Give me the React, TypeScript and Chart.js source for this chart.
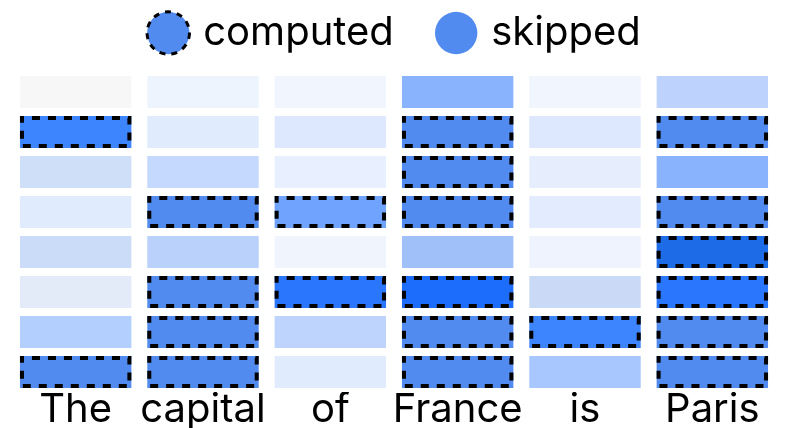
import { useEffect, useRef } from "react";
import { Chart, registerables } from "chart.js";

Chart.register(...registerables);

// Tokens (x-axis categories)
const words = ["The", "capital", "of", "France", "is", "Paris"];

// Layer rows (top to bottom)
const rowLabels = ["L1", "L2", "L3", "L4", "L5", "L6", "L7", "L8"];

// Cell colours per token, top row first
const colorsThe = ["#f7f7f7", "#3d85fe", "#cfdff8", "#e1ebfe", "#cbdcf9", "#e3eaf8", "#b3cffd", "#528bef"];
const colorsCapital = ["#eef4fe", "#e0ebfd", "#c5d8fd", "#528bef", "#b9d1fb", "#528bef", "#528bef", "#528bef"];
const colorsOf = ["#f0f5fe", "#dde8fe", "#e8effe", "#6fa3fe", "#eff4fd", "#2a76fd", "#bed4fd", "#e0ebfd"];
const colorsFrance = ["#8ab3fe", "#528bef", "#528bef", "#528bef", "#a0c0fa", "#1c6dfc", "#528bef", "#528bef"];
const colorsIs = ["#f0f5fe", "#dde8fe", "#e6eefe", "#e3ecfe", "#eef3fd", "#cad9f6", "#3d85fe", "#a8c7fe"];
const colorsParis = ["#bdd3fe", "#528bef", "#8ab3fe", "#528bef", "#1e6be8", "#2a76fd", "#528bef", "#528bef"];

// 1 = computed (dashed border), 0 = skipped
const computedThe = [0, 1, 0, 0, 0, 0, 0, 1];
const computedCapital = [0, 0, 0, 1, 0, 1, 1, 1];
const computedOf = [0, 0, 0, 1, 0, 1, 0, 0];
const computedFrance = [0, 1, 1, 1, 0, 1, 1, 1];
const computedIs = [0, 0, 0, 0, 0, 0, 1, 0];
const computedParis = [0, 1, 0, 1, 1, 1, 1, 1];

const legendLabels = ["computed", "skipped"];
const legendColor = "#528bef";

const colorCols = [colorsThe, colorsCapital, colorsOf, colorsFrance, colorsIs, colorsParis];
const computedCols = [computedThe, computedCapital, computedOf, computedFrance, computedIs, computedParis];

const dashPlugin = {
  id: "dashBorders",
  afterLayout(chart: any) {
    const lg = chart.legend;
    if (lg) {
      lg.left += 3;
      lg.right += 3;
    }
  },
  afterDatasetsDraw(chart: any) {
    const ctx = chart.ctx;
    chart.data.datasets.forEach((ds: any, di: number) => {
      const meta = chart.getDatasetMeta(di);
      meta.data.forEach((el: any, i: number) => {
        if (!ds.computed[i]) return;
        const { x, y, base, width } = el.getProps(["x", "y", "base", "width"], true);
        const left = x - width / 2;
        const top = Math.min(y, base);
        const h = Math.abs(base - y);
        ctx.save();
        ctx.strokeStyle = "#000";
        ctx.lineWidth = 4;
        ctx.setLineDash([8, 8]);
        ctx.lineDashOffset = 6;
        ctx.strokeRect(left + 2, top + 2, width - 4, h - 4);
        ctx.restore();
      });
    });
  },
};

export default function App() {
  const ref = useRef<HTMLCanvasElement | null>(null);

  useEffect(() => {
    if (!ref.current) return;
    const datasets = rowLabels.map((label, r) => ({
      label,
      data: words.map(() => [r + 0.1, r + 0.9]),
      backgroundColor: colorCols.map((c) => c[r]),
      computed: computedCols.map((c) => c[r]),
      borderWidth: 0,
      grouped: false,
      categoryPercentage: 1,
      barPercentage: 0.875,
    }));
    const chart = new Chart(ref.current, {
      type: "bar",
      data: { labels: words, datasets: datasets as any },
      plugins: [dashPlugin],
      options: {
        animation: false,
        responsive: true,
        maintainAspectRatio: false,
        layout: { padding: { left: 12, right: 12, top: 6, bottom: 0 } },
        plugins: {
          tooltip: { enabled: false },
          legend: {
            display: true,
            position: "top",
            labels: {
              usePointStyle: true,
              boxWidth: 30,
              boxHeight: 30,
              padding: 7,
              color: "#000",
              font: { family: "Inter", size: 40 },
              generateLabels: () => [
                {
                  text: legendLabels[0] + "\u00a0\u00a0\u00a0\u2006",
                  fillStyle: legendColor,
                  strokeStyle: "#000",
                  lineWidth: 3,
                  lineDash: [6, 6],
                  pointStyle: "circle",
                  hidden: false,
                },
                {
                  text: legendLabels[1],
                  fillStyle: legendColor,
                  strokeStyle: legendColor,
                  lineWidth: 0,
                  pointStyle: "circle",
                  hidden: false,
                },
              ] as any,
            },
          },
        },
        scales: {
          x: {
            grid: { display: false, drawTicks: false, tickLength: 0 },
            border: { display: false },
            ticks: {
              color: "#000",
              padding: 0,
              maxRotation: 0,
              minRotation: 0,
              autoSkip: false,
              font: { family: "Inter", size: 40, lineHeight: 0.9 },
            },
          },
          y: {
            display: false,
            reverse: true,
            min: -0.225,
            max: 8,
          },
        },
      },
    });
    return () => chart.destroy();
  }, []);

  return (
    <div style={{ position: "fixed", left: 0, top: 0, width: 788, height: 428, overflow: "hidden", background: "#fff" }}>
      <div style={{ position: "relative", width: 788, height: 428 }}>
        <canvas ref={ref} />
      </div>
    </div>
  );
}
